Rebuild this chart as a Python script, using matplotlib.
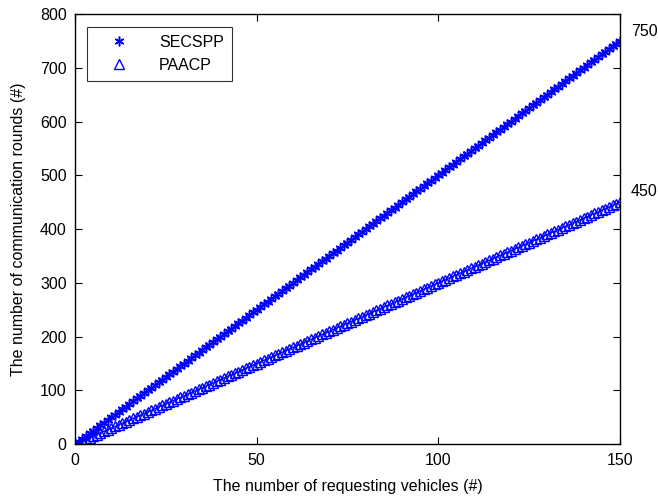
import numpy as np
import matplotlib.pyplot as plt

plt.rcParams['font.family'] = ['Liberation Sans', 'DejaVu Sans']

vehicles = np.arange(0, 151)
secspp_rounds = 5 * vehicles   # 5 rounds per vehicle, ends at 750
paacp_rounds = 3 * vehicles    # 3 rounds per vehicle, ends at 450
end_labels = ['750', '450']

fig = plt.figure(figsize=(6.58, 4.98), dpi=100)
ax = fig.add_axes([0.114, 0.108, 0.828, 0.864])

ax.plot(vehicles, secspp_rounds, color='blue', marker=(6, 2, 0), markersize=7,
        markeredgewidth=1.1, linewidth=1, label='SECSPP')
ax.plot(vehicles, paacp_rounds, color='blue', marker='^', markersize=7,
        markerfacecolor='none', markeredgewidth=1.0, linewidth=1, label='PAACP')

ax.set_xlim(0, 150)
ax.set_ylim(0, 800)
ax.set_xticks([0, 50, 100, 150])
ax.set_yticks(range(0, 801, 100))
ax.tick_params(direction='in', top=True, right=True, labelsize=11.5, length=5, pad=6)
for s in ax.spines.values():
    s.set_linewidth(1.0)

ax.set_xlabel('The number of requesting vehicles (#)', fontsize=11.5, labelpad=8)
ax.set_ylabel('The number of communication rounds (#)', fontsize=11.5, labelpad=10)

ax.text(153, secspp_rounds[-1] + 18, end_labels[0], fontsize=11.5, va='center', clip_on=False)
ax.text(153, paacp_rounds[-1] + 20, end_labels[1], fontsize=11.5, va='center', clip_on=False)

leg = ax.legend(loc='upper left', bbox_to_anchor=(0.022, 0.97), borderaxespad=0,
                fancybox=False, edgecolor='black', fontsize=11.5, handlelength=3.0,
                borderpad=0.5, labelspacing=0.5, handletextpad=1.0)
leg.get_frame().set_linewidth(0.8)
for h in leg.legend_handles:
    h.set_linestyle('none')

fig.savefig('out.png', dpi=100)
